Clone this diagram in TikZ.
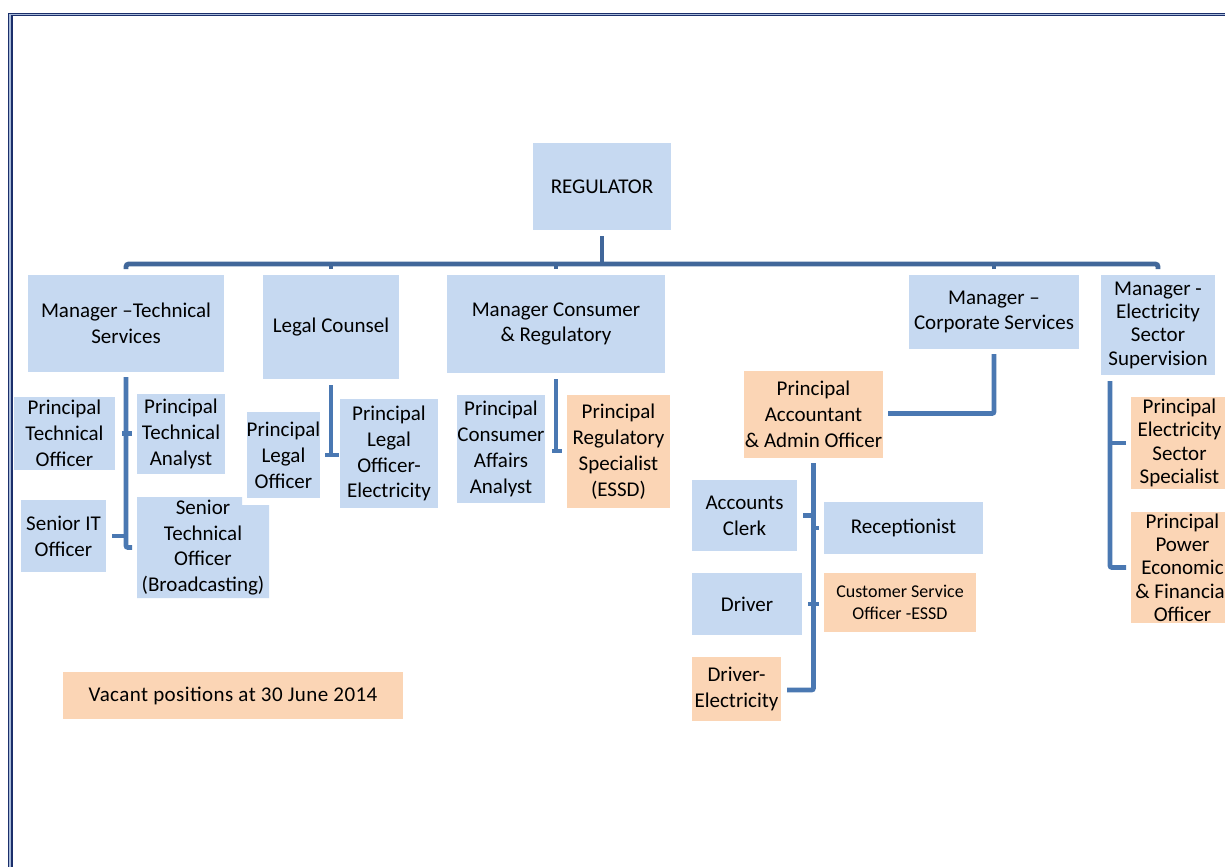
\documentclass[tikz,border=0pt]{standalone}
\usepackage{fontspec}
\setmainfont{Carlito}
\usetikzlibrary{calc}
\definecolor{boxblue}{HTML}{C6D9F1}
\definecolor{boxorange}{HTML}{FBD5B5}
\definecolor{busblue}{HTML}{41679A}
\definecolor{connblue}{HTML}{4A78B2}
\definecolor{navy}{HTML}{1B2F6B}
\definecolor{bordlight}{HTML}{A9BBD9}
\begin{document}
\begin{tikzpicture}[x=0.75pt,y=-0.75pt,
 box/.style={inner sep=0pt, outer sep=0pt, align=center, font=\fontsize{15.75pt}{19.35pt}\selectfont, text=black},
 corners/.style n args={4}{minimum width={(#3-#1)*0.75pt}, minimum height={(#4-#2)*0.75pt}, at={({(#1+#3)/2},{(#2+#4)/2})}},
 bluebox/.style={box, fill=boxblue},
 orangebox/.style={box, fill=boxorange},
 tight/.style={font=\fontsize{15.75pt}{17.5pt}\selectfont},
 bus/.style={draw=busblue, line width=3.6pt},
 conn/.style={draw=connblue, line width=3.6pt, rounded corners=1.5pt},
]
\useasboundingbox (0,0) rectangle (1225,867);
\fill[white] (0,0) rectangle (1225,867);
% page border
\fill[bordlight] (8.3,13.3) rectangle (12.6,867);
\fill[bordlight] (8.3,13.3) rectangle (1225,16);
\draw[navy, line width=0.9pt] (8.8,867) -- (8.8,13.8) -- (1225,13.8);
\draw[navy, line width=0.9pt] (12,867) -- (12,15.6) -- (1225,15.6);

% top level
\node[bluebox, corners={533}{143}{671}{230}] (reg) {REGULATOR};
\node[bluebox, corners={28}{275}{224}{372}] (mts) {Manager –Technical\\Services};
\node[bluebox, corners={263}{275}{399}{379}] (lc) {Legal Counsel};
\node[bluebox, corners={447}{275}{665}{373}] (mcr) {Manager Consumer\\\& Regulatory};
\node[bluebox, corners={909}{275}{1079}{349}] (mcs) {Manager –\\Corporate Services};
\node[bluebox, tight, corners={1101}{275}{1215}{375}] (mess) {Manager -\\Electricity\\Sector\\Supervision};

% technical
\node[bluebox, corners={14}{397}{115}{470}] (pto) {Principal\\Technical\\Officer};
\node[bluebox, corners={137}{394}{225}{474}] (pta) {Principal\\Technical\\Analyst};
\node[bluebox, corners={21}{500}{106}{572}] (sito) {Senior IT\\Officer};
\fill[boxblue] (137,497) -- (242,497) -- (242,505) -- (269,505) -- (269,598) -- (137,598) -- cycle;
\node[box, corners={137}{497}{269}{598}] (sto) {Senior\\Technical\\Officer\\(Broadcasting)};

% legal
\node[bluebox, corners={247}{412}{320}{498}] (plo) {Principal\\Legal\\Officer};
\node[bluebox, corners={340}{399}{438}{508}] (ple) {Principal\\Legal\\Officer-\\Electricity};

% consumer
\node[bluebox, corners={457}{395}{545}{503}] (pcaa) {Principal\\Consumer\\Affairs\\Analyst};
\node[orangebox, corners={567}{395}{670}{508}] (prs) {Principal\\Regulatory\\Specialist\\(ESSD)};

% corporate
\node[orangebox, corners={744}{371}{883}{458}] (paao) {Principal\\Accountant\\\& Admin Officer};
\node[bluebox, corners={692}{480}{797}{551}] (ac) {Accounts\\Clerk};
\node[bluebox, corners={824}{502}{983}{554}] (rec) {Receptionist};
\node[bluebox, corners={692}{573}{802}{635}] (drv) {Driver};
\node[orangebox, font=\fontsize{13.5pt}{16.5pt}\selectfont, corners={824}{573}{976}{632}] (cso) {Customer Service\\Officer -ESSD};
\node[orangebox, corners={692}{657}{781}{721}] (dre) {Driver-\\Electricity};

% electricity
\node[orangebox, tight, corners={1131}{397}{1228}{489}] (pess) {Principal\\Electricity\\Sector\\Specialist};
\node[orangebox, tight, corners={1131}{512}{1234}{623}] (ppe) {Principal\\Power\\Economic\\\& Financial\\Officer};

% legend
\node[orangebox, font=\fontsize{15.75pt}{19pt}\selectfont\addfontfeatures{LetterSpace=2}, corners={63}{672}{403}{719}] (vac) {Vacant positions at 30 June 2014};

% top connectors
\draw[bus] ($(reg.south)+(0,6)$) -- ($(reg.south)+(0,34)$);
\draw[bus, rounded corners=2pt] ($(mts.north)+(0,-6)$) |- ($(mess.north)+(0,-11)$) -- ($(mess.north)+(0,-6)$);
\foreach \n in {lc,mcr,mcs} \draw[bus] ($(\n.north)+(0,-6)$) -- ($(\n.north)+(0,-11)$);

% technical connectors
\draw[conn] ($(mts.south)+(0,5)$) |- ($(sto.west)+(-5,0)$);
\draw[conn] ($(pto.east)+(7,0)$) -- ($(pto.east)+(17,0)$);
\draw[conn] ($(sito.east)+(6,0)$) -- (mts.south |- sito.east);

% legal connectors
\draw[conn] ($(lc.south)+(0,6)$) -- (lc.south |- plo.east);
\draw[conn] ($(plo.east)+(5,0)$) -- ($(plo.east)+(19,0)$);

% consumer connectors
\draw[conn] ($(mcr.south)+(0,6)$) -- ($(mcr.south)+(0,80)$);
\draw[conn] ($(mcr.south)+(-4,78)$) -- ($(mcr.south)+(6,78)$);

% corporate connectors
\draw[conn] ($(mcs.south)+(0,5)$) |- ($(paao.east)+(5,-1)$);
\draw[conn] ($(paao.south)+(0,5)$) |- ($(dre.east)+(6,1)$);
\draw[conn] ($(ac.east)+(6,0)$) -- (paao.south |- ac.east);
\draw[conn] (paao.south |- rec.west) -- ($(rec.west)+(-5,0)$);
\draw[conn] ($(drv.east)+(6,0)$) -- ($(drv.east)+(17,0)$);

% electricity connectors
\draw[conn] ($(mess.south)+(-48,6)$) |- ($(ppe.west)+(-5,0)$);
\draw[conn] ($(pess.west)+(-5,0)$) -- ($(pess.west)+(-21,0)$);
\end{tikzpicture}
\end{document}
